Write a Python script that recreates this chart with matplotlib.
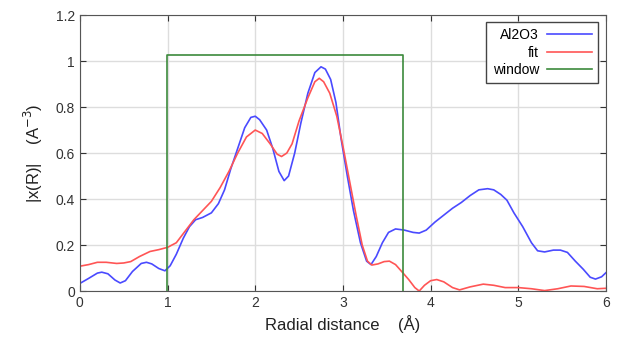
import matplotlib
matplotlib.use("Agg")
import matplotlib.pyplot as plt

plt.rcParams['font.family'] = ['Liberation Sans', 'DejaVu Sans']

# Al2O3 data
r_al = [0.0, 0.1, 0.2, 0.25, 0.32, 0.4, 0.46, 0.52, 0.6, 0.7, 0.76, 0.82, 0.9, 0.97,
        1.03, 1.1, 1.18, 1.25, 1.32, 1.4, 1.5, 1.58, 1.65, 1.72, 1.8, 1.88, 1.95,
        2.0, 2.05, 2.13, 2.2, 2.27, 2.33, 2.38, 2.45, 2.52, 2.6, 2.68, 2.75, 2.8,
        2.86, 2.92, 2.98, 3.05, 3.12, 3.2, 3.27, 3.32, 3.38, 3.45, 3.52, 3.6, 3.7,
        3.8, 3.87, 3.95, 4.05, 4.15, 4.25, 4.35, 4.45, 4.55, 4.65, 4.72, 4.8, 4.87,
        4.95, 5.05, 5.15, 5.22, 5.3, 5.4, 5.48, 5.56, 5.65, 5.74, 5.82, 5.88, 5.95, 6.0]
chi_al = [0.033, 0.055, 0.078, 0.082, 0.075, 0.048, 0.035, 0.045, 0.085, 0.12, 0.125,
          0.118, 0.098, 0.088, 0.11, 0.16, 0.23, 0.28, 0.31, 0.32, 0.34, 0.38, 0.44,
          0.53, 0.62, 0.71, 0.755, 0.76, 0.745, 0.70, 0.62, 0.52, 0.48, 0.5, 0.6,
          0.73, 0.86, 0.95, 0.975, 0.965, 0.92, 0.82, 0.66, 0.5, 0.35, 0.21, 0.13,
          0.115, 0.15, 0.21, 0.255, 0.27, 0.265, 0.255, 0.252, 0.265, 0.3, 0.33,
          0.36, 0.385, 0.415, 0.44, 0.445, 0.44, 0.42, 0.395, 0.34, 0.28, 0.21,
          0.175, 0.17, 0.178, 0.178, 0.168, 0.13, 0.095, 0.06, 0.052, 0.062, 0.08]

# fit
r_fit = [0.0, 0.1, 0.2, 0.3, 0.42, 0.5, 0.58, 0.68, 0.8, 0.9, 1.0, 1.1, 1.2, 1.3, 1.4,
         1.5, 1.6, 1.7, 1.8, 1.9, 2.0, 2.08, 2.17, 2.25, 2.3, 2.36, 2.42, 2.5, 2.6,
         2.68, 2.73, 2.78, 2.85, 2.93, 3.0, 3.08, 3.15, 3.22, 3.28, 3.33, 3.4, 3.47,
         3.53, 3.6, 3.67, 3.75, 3.82, 3.87, 3.93, 4.0, 4.07, 4.15, 4.25, 4.33, 4.45,
         4.6, 4.72, 4.85, 5.0, 5.15, 5.3, 5.45, 5.6, 5.75, 5.9, 6.0]
chi_fit = [0.108, 0.115, 0.125, 0.125, 0.12, 0.122, 0.128, 0.15, 0.172, 0.18, 0.19,
           0.21, 0.26, 0.31, 0.35, 0.39, 0.45, 0.52, 0.6, 0.67, 0.70, 0.685, 0.64,
           0.595, 0.585, 0.6, 0.64, 0.74, 0.84, 0.91, 0.925, 0.91, 0.86, 0.76, 0.63,
           0.47, 0.33, 0.2, 0.13, 0.113, 0.118, 0.128, 0.13, 0.115, 0.085, 0.05,
           0.015, 0.0, 0.025, 0.045, 0.05, 0.04, 0.015, 0.005, 0.018, 0.03, 0.025,
           0.015, 0.015, 0.01, 0.002, 0.01, 0.022, 0.02, 0.01, 0.012]

# window
r_win = [0.99, 0.99, 3.68, 3.68]
w_win = [0.0, 1.025, 1.025, 0.0]

fig = plt.figure(figsize=(6.19, 3.42), dpi=100)
ax = fig.add_axes([0.129, 0.149, 0.85, 0.807])

ax.plot(r_al, chi_al, color="#4a4aff", lw=1.2, label="Al2O3")
ax.plot(r_fit, chi_fit, color="#ff5555", lw=1.2, label="fit")
ax.plot(r_win, w_win, color="#3c8a3c", lw=1.2, label="window")

ax.set_xlim(0, 6)
ax.set_ylim(0, 1.2)
ax.set_xticks(range(7))
ax.set_yticks([0, 0.2, 0.4, 0.6, 0.8, 1, 1.2])
ax.set_yticklabels(["0", "0.2", "0.4", "0.6", "0.8", "1", "1.2"])
ax.grid(True, color="#dddddd", lw=1)
ax.set_axisbelow(True)
ax.tick_params(direction="in", top=True, right=True, labelsize=10,
               colors="#333333", length=4)
for s in ax.spines.values():
    s.set_color("#555555")

ax.set_xlabel("Radial distance    (Å)", fontsize=12, color="#222222")
ax.set_ylabel("|x(R)|    (A$^{-3}$)", fontsize=12, color="#222222", labelpad=8)

# markerfirst=False right-aligns the labels against the sample lines (gnuplot style)
ax.legend(loc="upper right", markerfirst=False, fontsize=10,
          fancybox=False, framealpha=1, edgecolor="#444444",
          handlelength=3.2, borderpad=0.45, labelspacing=0.25,
          handletextpad=0.6, borderaxespad=0,
          bbox_to_anchor=(0.985, 0.975))

fig.savefig("out.png", dpi=100)
